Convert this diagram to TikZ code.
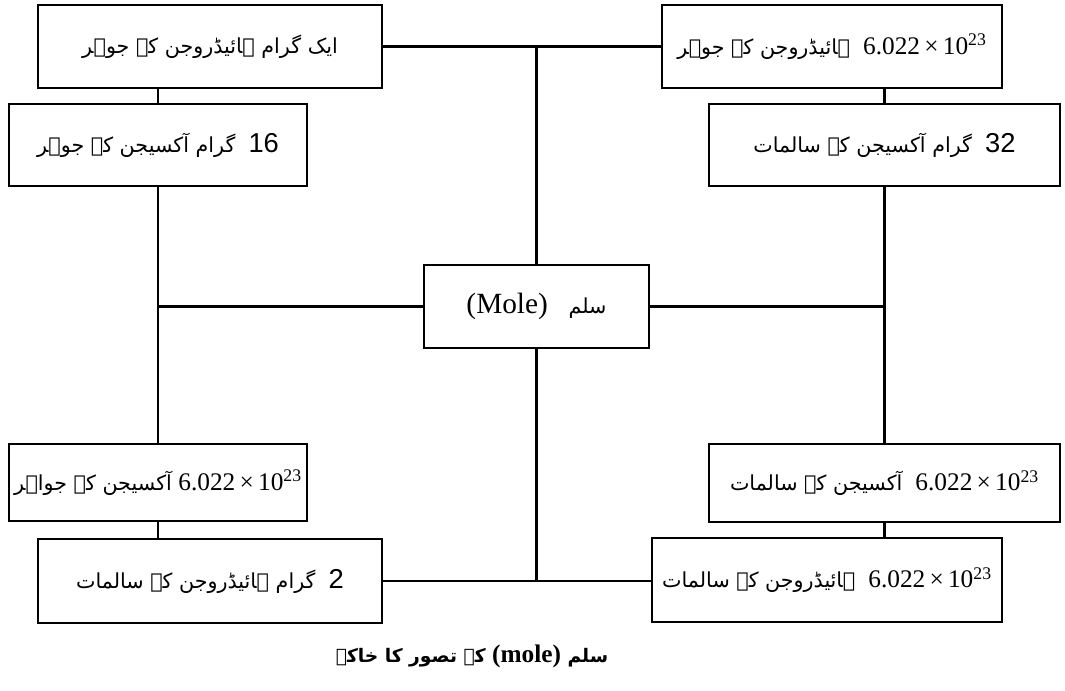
\documentclass[tikz,border=0pt]{standalone}
\usepackage{fontspec}
\setmainfont{Liberation Serif}
\newfontfamily\urdu[Script=Arabic]{DejaVu Sans}
\newfontfamily\numsans{Liberation Sans}
\TeXXeTstate=1
\newcommand{\avog}{\beginL{\rmfamily\fontsize{19}{21}\selectfont 6.022\,×\,10\textsuperscript{23}}\endL}
\newcommand{\gnum}[1]{\beginL{\numsans\fontsize{20.5}{22}\selectfont #1}\endL}

\tikzset{every picture/.style={line width=0.75pt}}
\tikzset{
  urbox/.style={draw, line width=1.8pt, inner sep=0pt, align=center,
    font=\urdu\fontsize{15.5}{18}\selectfont},
  link/.style={line width=1.8pt}
}

\begin{document}
\begin{tikzpicture}[x=0.75pt,y=0.75pt,yscale=-1,xscale=1]
\useasboundingbox (0,0) rectangle (1065,691);

% hydrogen boxes
\node [urbox, minimum width=258pt, minimum height=62.25pt] (hA) at (210,46.5) {\beginR ایک گرام ہائیڈروجن کے جوہر\endR};
\node [urbox, minimum width=255pt, minimum height=62.25pt] (hB) at (832,46.5) {\beginR\avog{}\ \ ہائیڈروجن کے جوہر\endR};
\node [urbox, minimum width=258pt, minimum height=63pt] (hC) at (210,581) {\beginR\gnum{2}\ \ گرام ہائیڈروجن کے سالمات\endR};
\node [urbox, minimum width=262.5pt, minimum height=63pt] (hD) at (827,580) {\beginR\avog{}\ \ ہائیڈروجن کے سالمات\endR};

% oxygen boxes
\node [urbox, minimum width=223.5pt, minimum height=61.5pt] (oA) at (158,145) {\beginR\gnum{16}\ \ گرام آکسیجن کے جوہر\endR};
\node [urbox, minimum width=263.25pt, minimum height=61.5pt] (oB) at (884.5,145) {\beginR\gnum{32}\ \ گرام آکسیجن کے سالمات\endR};
\node [urbox, minimum width=223.5pt, minimum height=57.75pt] (oC) at (158,482.5) {\beginR\avog{} آکسیجن کے جواہر\endR};
\node [urbox, minimum width=263.25pt, minimum height=58.5pt] (oD) at (884.5,483) {\beginR\avog{}\ \ آکسیجن کے سالمات\endR};

% centre
\node [urbox, minimum width=168.75pt, minimum height=62.25pt] (mole) at (536.5,306.5) {\beginR سلم\quad\beginL{\rmfamily\fontsize{22}{24}\selectfont (Mole)}\endL\endR};

% caption
\node [font=\urdu\bfseries\fontsize{14}{18}\selectfont, inner sep=0pt] (cap) at (472,656) {\beginR سلم \beginL{\rmfamily\bfseries\fontsize{19}{21}\selectfont (mole)}\endL{} کے تصور کا خاکہ\endR};

% connectors
\draw [link] (hA.east) -- (hB.west);
\draw [link] (hC.east) -- (hC.east -| hD.west);
\draw [link] (mole.north) -- (mole.north |- hA.east);
\draw [link] (mole.south) -- (mole.south |- hC.east);
\draw [link] (mole.west) -- (mole.west -| oA.south);
\draw [link] (mole.east) -- (mole.east -| oB.south);
\draw [link] (oA.north) -- (oA.north |- hA.south);
\draw [link] (oA.south) -- (oC.north);
\draw [link] (oC.south) -- (oC.south |- hC.north);
\draw [link] (oB.north) -- (oB.north |- hB.south);
\draw [link] (oB.south) -- (oD.north);
\draw [link] (oD.south) -- (oD.south |- hD.north);

\end{tikzpicture}
\end{document}
